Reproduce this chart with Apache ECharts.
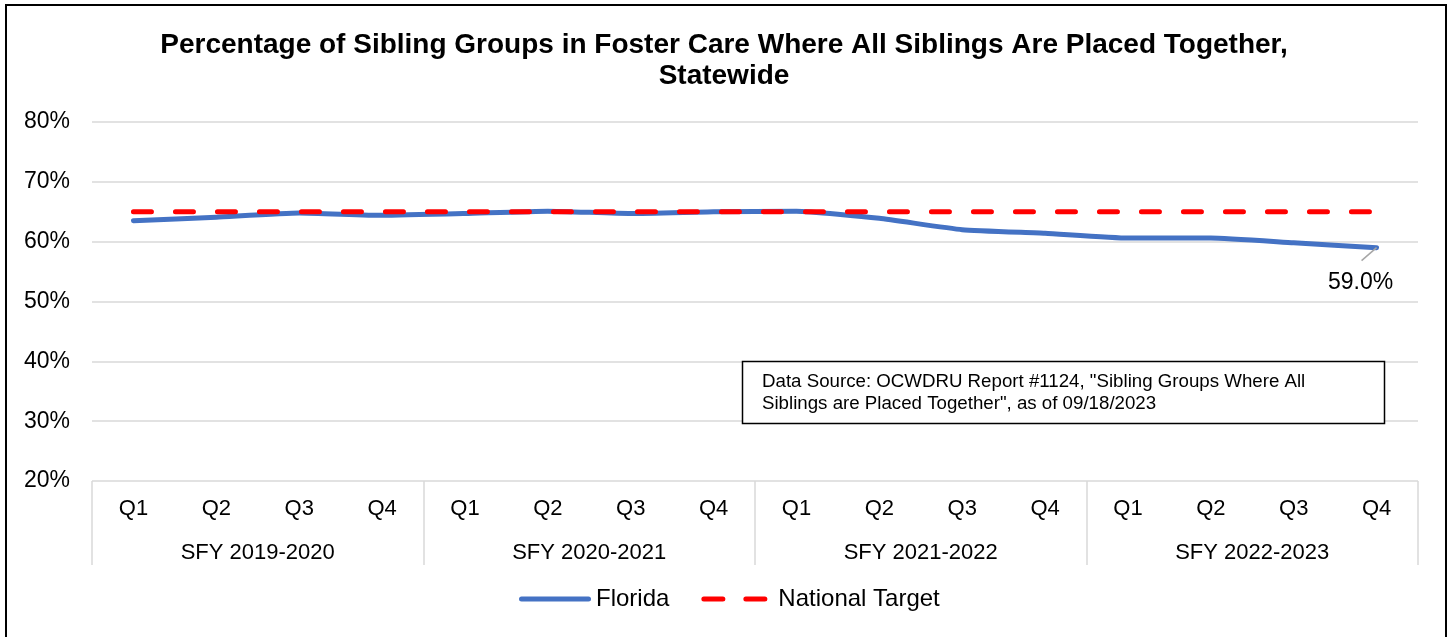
<!DOCTYPE html>
<html>
<head>
<meta charset="utf-8">
<script src="https://cdn.jsdelivr.net/npm/echarts@6/dist/echarts.min.js"></script>
<style>
  html, body { margin: 0; padding: 0; background: #fff; }
  #chart { width: 1448px; height: 637px; }
</style>
</head>
<body>
<div id="chart"></div>
<script>
// Quarter labels and fiscal-year groups
const quarters = ['Q1', 'Q2', 'Q3', 'Q4', 'Q1', 'Q2', 'Q3', 'Q4', 'Q1', 'Q2', 'Q3', 'Q4', 'Q1', 'Q2', 'Q3', 'Q4'];
const fiscalYears = ['SFY 2019-2020', 'SFY 2020-2021', 'SFY 2021-2022', 'SFY 2022-2023'];

// Percent of sibling groups placed together (Florida) and the national target
const florida = [63.5, 64.1, 64.8, 64.4, 64.7, 65.1, 64.7, 65.0, 65.1, 63.9, 62.0, 61.4, 60.6, 60.6, 59.8, 59.0];
const nationalTarget = [65, 65, 65, 65, 65, 65, 65, 65, 65, 65, 65, 65, 65, 65, 65, 65];

// Y axis range
const yMin = 20, yMax = 80, yStep = 10;

const FONT = 'Arial, "Liberation Sans", sans-serif';
const chart = echarts.init(document.getElementById('chart'), null, { renderer: 'canvas' });

const lastIdx = florida.length - 1;

const option = {
  animation: false,
  backgroundColor: '#ffffff',
  title: {
    text: 'Percentage of Sibling Groups in Foster Care Where All Siblings Are Placed Together,\nStatewide',
    left: 'center',
    top: 25,
    textStyle: { fontFamily: FONT, fontSize: 28, fontWeight: 'bold', color: '#000', lineHeight: 31 }
  },
  legend: {
    bottom: 21,
    left: 514,
    itemWidth: 72,
    itemHeight: 5,
    itemGap: 32,
    textStyle: { fontFamily: FONT, fontSize: 24, color: '#000' },
    data: [
      { name: 'Florida', icon: 'path://M2.5,0 L69.5,0 A2.5,2.5 0 0 1 69.5,5 L2.5,5 A2.5,2.5 0 0 1 2.5,0 Z' },
      { name: 'National Target', icon: 'path://M2.5,0 L21.5,0 A2.5,2.5 0 0 1 21.5,5 L2.5,5 A2.5,2.5 0 0 1 2.5,0 Z M44.5,0 L63.5,0 A2.5,2.5 0 0 1 63.5,5 L44.5,5 A2.5,2.5 0 0 1 44.5,0 Z M72,0 L72,5 Z' }
    ]
  },
  grid: { left: 92, right: 30, top: 122, bottom: 156, containLabel: false },
  xAxis: [
    {
      type: 'category',
      data: quarters,
      position: 'bottom',
      boundaryGap: true,
      axisLine: { show: false },
      axisTick: { show: false },
      axisLabel: { fontFamily: FONT, fontSize: 22, color: '#000', margin: 17 }
    },
    {
      type: 'category',
      data: fiscalYears,
      position: 'bottom',
      boundaryGap: true,
      axisLine: { show: false },
      axisTick: { show: true, length: 84, lineStyle: { color: '#d9d9d9', width: 1.5 } },
      axisLabel: { fontFamily: FONT, fontSize: 22, color: '#000', margin: 61 }
    }
  ],
  yAxis: {
    type: 'value',
    min: yMin,
    max: yMax,
    interval: yStep,
    axisLine: { show: false },
    axisTick: { show: false },
    splitLine: { lineStyle: { color: '#d9d9d9', width: 1.5 } },
    axisLabel: { fontFamily: FONT, fontSize: 23, color: '#000', margin: 22, padding: [3, 0, 0, 0], formatter: v => v + '%' }
  },
  series: [
    {
      name: 'Florida',
      type: 'line',
      data: florida,
      xAxisIndex: 0,
      symbol: 'none',
      smooth: 0.15,
      lineStyle: { color: '#4472c4', width: 5, cap: 'round', join: 'round' },
      itemStyle: { color: '#4472c4' },
      endLabel: {
        show: true,
        align: 'center',
        verticalAlign: 'middle',
        distance: 0,
        offset: [-16, 35],
        formatter: p => Number(p.value).toFixed(1) + '%',
        fontFamily: FONT, fontSize: 23, color: '#000'
      },
      z: 3
    },
    {
      name: 'National Target',
      type: 'line',
      data: nationalTarget,
      xAxisIndex: 0,
      symbol: 'none',
      lineStyle: { color: '#ff0000', width: 5, type: [18, 24], cap: 'round' },
      itemStyle: { color: '#ff0000' },
      z: 4
    }
  ],
  graphic: [
    {
      id: 'frame',
      type: 'rect',
      shape: { x: 6, y: 5, width: 1440, height: 640 },
      style: { fill: 'transparent', stroke: '#000', lineWidth: 2 },
      silent: true,
      z: 100
    },
    {
      id: 'sourceBox',
      type: 'rect',
      shape: { x: 742.5, y: 361.5, width: 642, height: 62 },
      style: { fill: '#fff', stroke: '#000', lineWidth: 1.5 },
      z: 100
    },
    {
      id: 'sourceText',
      type: 'text',
      x: 762,
      y: 371,
      style: {
        text: 'Data Source: OCWDRU Report #1124, "Sibling Groups Where All\nSiblings are Placed Together", as of 09/18/2023',
        font: '18.7px ' + FONT,
        fill: '#000',
        lineHeight: 22
      },
      z: 101
    }
  ]
};
chart.setOption(option);

// Leader line from the last Florida point toward its value label
const endPt = chart.convertToPixel({ xAxisIndex: 0, yAxisIndex: 0 }, [lastIdx, florida[lastIdx]]);
chart.setOption({
  graphic: [{
    id: 'leader',
    type: 'line',
    shape: { x1: endPt[0], y1: endPt[1], x2: endPt[0] - 15, y2: endPt[1] + 13 },
    style: { stroke: '#a6a6a6', lineWidth: 1.5 },
    z: 5
  }]
});
</script>
</body>
</html>
